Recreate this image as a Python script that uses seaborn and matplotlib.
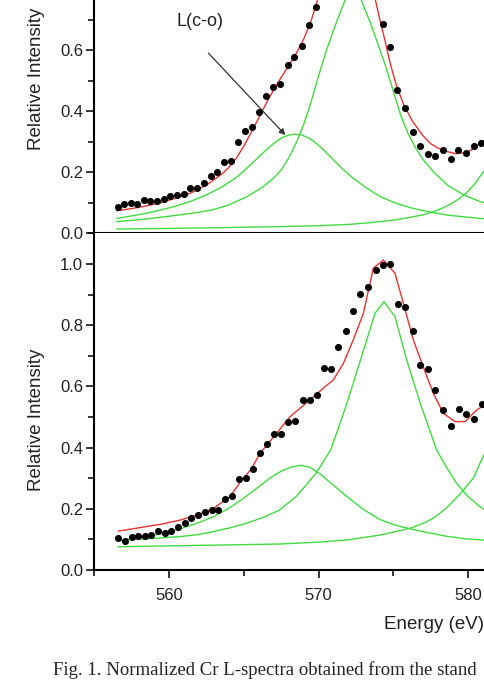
import numpy as np
import pandas as pd
import matplotlib
matplotlib.use("Agg")
import matplotlib.pyplot as plt
from matplotlib.ticker import MultipleLocator, FixedLocator, FormatStrFormatter
import seaborn as sns

# ---------------- data: top panel ----------------
top_pts_x = [556.56, 557.0, 557.45, 557.85, 558.3, 558.74, 559.19, 559.63, 560.08, 560.52,
             560.97, 561.42, 561.86, 562.35, 562.8, 563.24, 563.69, 564.13, 564.62, 565.09,
             565.56, 566.03, 566.48, 566.95, 567.44, 567.93, 568.38, 568.87, 569.36, 569.83,
             570.28, 570.72, 571.17, 571.62, 572.07, 572.51, 572.96, 573.41, 573.86,
             574.3, 574.75, 575.26, 575.77, 576.29, 576.78, 577.3, 577.81, 578.32, 578.84,
             579.35, 579.86, 580.37, 580.89]
top_pts_y = [0.086, 0.095, 0.100, 0.096, 0.108, 0.105, 0.105, 0.110, 0.122, 0.125,
             0.128, 0.149, 0.149, 0.165, 0.187, 0.201, 0.234, 0.237, 0.297, 0.334,
             0.348, 0.397, 0.450, 0.480, 0.488, 0.552, 0.576, 0.612, 0.681, 0.740,
             0.82, 0.88, 0.94, 0.98, 1.00, 0.99, 0.95, 0.89, 0.82,
             0.685, 0.609, 0.469, 0.409, 0.332, 0.284, 0.260, 0.253, 0.272, 0.242,
             0.272, 0.262, 0.285, 0.296]

top_fit_x = [556.5, 557.5, 558.5, 559.5, 560.5, 561.5, 562.5, 563.5, 564.0, 564.5, 565.0,
             565.5, 566.0, 566.5, 567.0, 567.5, 568.0, 568.5, 569.0, 569.5, 570.0, 570.5,
             571.0, 571.5, 572.0, 572.5, 573.0, 573.4, 573.8, 574.1, 574.4, 574.8, 575.2,
             575.7, 576.3, 577.0, 577.5, 578.0, 578.6, 579.2, 579.9, 580.4, 580.8, 581.3]
top_fit_y = [0.073, 0.080, 0.089, 0.100, 0.115, 0.132, 0.157, 0.192, 0.215, 0.245, 0.285,
             0.330, 0.378, 0.425, 0.470, 0.510, 0.548, 0.588, 0.635, 0.695, 0.775, 0.845,
             0.910, 0.960, 0.990, 0.990, 0.950, 0.880, 0.765, 0.700, 0.640, 0.555, 0.485,
             0.420, 0.365, 0.318, 0.293, 0.278, 0.267, 0.260, 0.264, 0.278, 0.294, 0.310]

top_c1_x = [556.5, 557.5, 558.5, 559.5, 560.5, 561.5, 562.5, 563.5, 564.5, 565.2, 565.8,
            566.4, 567.0, 567.5, 568.0, 568.4, 568.9, 569.4, 570.0, 570.8, 571.5, 572.3,
            573.2, 574.1, 575.2, 576.3, 577.4, 578.6, 579.7, 580.8, 581.5]
top_c1_y = [0.048, 0.056, 0.065, 0.076, 0.089, 0.105, 0.125, 0.150, 0.182, 0.212, 0.240,
            0.268, 0.294, 0.311, 0.321, 0.324, 0.321, 0.310, 0.288, 0.250, 0.215, 0.180,
            0.148, 0.120, 0.097, 0.081, 0.069, 0.059, 0.053, 0.048, 0.045]

top_c2_x = [556.5, 558.5, 560.5, 562.0, 563.0, 564.0, 565.2, 566.2, 567.0, 567.5, 568.0,
            568.5, 569.0, 569.5, 570.0, 570.5, 571.0, 571.5, 572.0, 572.3, 572.6, 573.0,
            573.5, 574.0, 574.5, 575.0, 575.5, 576.0, 576.5, 577.0, 577.7, 578.6, 579.7,
            580.8, 581.5]
top_c2_y = [0.037, 0.046, 0.058, 0.068, 0.077, 0.092, 0.119, 0.148, 0.180, 0.207, 0.245,
            0.295, 0.355, 0.430, 0.515, 0.595, 0.665, 0.730, 0.790, 0.810, 0.800, 0.745,
            0.685, 0.615, 0.545, 0.465, 0.385, 0.325, 0.278, 0.240, 0.200, 0.158, 0.125,
            0.103, 0.093]

top_c3_x = [556.5, 560.0, 564.0, 567.4, 570.0, 572.0, 573.5, 575.0, 576.0, 577.0, 577.7,
            578.3, 578.9, 579.4, 579.9, 580.4, 580.8, 581.2, 581.6]
top_c3_y = [0.013, 0.015, 0.018, 0.021, 0.024, 0.028, 0.034, 0.042, 0.050, 0.060, 0.070,
            0.082, 0.097, 0.112, 0.132, 0.158, 0.185, 0.212, 0.240]

# ---------------- data: bottom panel ----------------
bot_pts_x = [556.6, 557.05, 557.5, 557.94, 558.39, 558.79, 559.26, 559.71, 560.15, 560.6,
             561.05, 561.49, 561.94, 562.38, 562.85, 563.29, 563.76, 564.21, 564.68, 565.13,
             565.59, 566.08, 566.53, 567.0, 567.47, 567.98, 568.43, 568.94, 569.43, 569.88,
             570.36, 570.83, 571.32, 571.84, 572.3, 572.79, 573.31, 573.82, 574.31, 574.8,
             575.29, 575.8, 576.3, 576.81, 577.3, 577.81, 578.32, 578.84, 579.37, 579.88,
             580.38, 580.91]
bot_pts_y = [0.104, 0.096, 0.109, 0.111, 0.112, 0.115, 0.128, 0.122, 0.127, 0.139,
             0.153, 0.170, 0.180, 0.191, 0.196, 0.195, 0.231, 0.241, 0.297, 0.301,
             0.329, 0.383, 0.412, 0.444, 0.443, 0.483, 0.487, 0.556, 0.556, 0.571,
             0.659, 0.656, 0.729, 0.781, 0.845, 0.901, 0.926, 0.979, 0.996, 0.999,
             0.869, 0.861, 0.781, 0.670, 0.658, 0.588, 0.523, 0.471, 0.526, 0.510,
             0.493, 0.542]

bot_fit_x = [556.6, 558.0, 559.5, 560.73, 562.0, 562.96, 564.08, 564.8, 565.5, 566.08,
             567.2, 568.09, 569.43, 570.43, 570.99, 571.66, 572.32, 573.0, 573.66, 574.33,
             575.11, 575.67, 576.34, 577.0, 577.68, 578.35, 579.13, 579.8, 580.58, 581.3]
bot_fit_y = [0.127, 0.138, 0.150, 0.163, 0.182, 0.201, 0.240, 0.290, 0.330, 0.381,
             0.447, 0.501, 0.556, 0.599, 0.621, 0.675, 0.752, 0.839, 0.986, 1.013,
             0.970, 0.872, 0.752, 0.664, 0.577, 0.512, 0.485, 0.485, 0.523, 0.545]

bot_c1_x = [556.6, 558.0, 559.5, 560.7, 562.0, 563.0, 564.0, 565.0, 566.0, 566.8, 567.5,
            568.2, 568.8, 569.4, 570.0, 570.8, 571.9, 573.0, 574.1, 575.1, 576.1, 577.3,
            578.6, 579.8, 581.3]
bot_c1_y = [0.096, 0.105, 0.118, 0.134, 0.155, 0.175, 0.202, 0.235, 0.272, 0.302, 0.323,
            0.337, 0.342, 0.336, 0.318, 0.285, 0.240, 0.198, 0.165, 0.147, 0.135, 0.122,
            0.110, 0.102, 0.097]

bot_c2_x = [556.6, 558.5, 560.7, 562.0, 563.0, 564.0, 565.2, 566.3, 567.4, 568.5, 569.3,
            569.9, 570.8, 571.3, 571.9, 572.8, 573.78, 574.38, 575.11, 575.9, 576.8, 577.9,
            578.5, 579.24, 580.0, 580.8, 581.3]
bot_c2_y = [0.098, 0.102, 0.109, 0.116, 0.126, 0.137, 0.153, 0.172, 0.196, 0.240, 0.285,
            0.321, 0.392, 0.460, 0.545, 0.686, 0.839, 0.877, 0.828, 0.686, 0.545, 0.392,
            0.340, 0.283, 0.240, 0.207, 0.190]

bot_c3_x = [556.6, 560.0, 564.0, 567.42, 570.0, 571.88, 574.1, 576.1, 576.7, 577.2, 577.7,
            578.1, 578.6, 579.0, 579.4, 579.7, 580.0, 580.35, 580.8, 581.3]
bot_c3_y = [0.076, 0.079, 0.082, 0.085, 0.091, 0.098, 0.114, 0.136, 0.147, 0.157, 0.170,
            0.185, 0.205, 0.225, 0.245, 0.261, 0.280, 0.300, 0.349, 0.400]

x_major_ticks = [560, 570, 580]
x_minor_ticks = [555, 565, 575]
top_y_major = [0.0, 0.2, 0.4, 0.6]
bot_y_major = [0.0, 0.2, 0.4, 0.6, 0.8, 1.0]
y_label = "Relative Intensity"
x_label = "Energy (eV)"
annot_text = "L(c-o)"
caption = "Fig. 1. Normalized Cr L-spectra obtained from the stand"

# ---------------- style ----------------
sns.set_style("ticks")
plt.rcParams["font.family"] = ["Liberation Sans", "DejaVu Sans"]

RED = "#e63232"
GREEN = "#40dc40"

W, H = 485, 697
fig = plt.figure(figsize=(W / 100, H / 100), dpi=100)

x0_px = 94.3
px_per_ev = 14.95
xlim = (555, 590)
ylim = (0, 1.1)
ax_w = (xlim[1] - xlim[0]) * px_per_ev / W

ax_top = fig.add_axes([x0_px / W, (H - 233) / H, ax_w, 1.1 * 305 / H])
ax_bot = fig.add_axes([x0_px / W, (H - 570) / H, ax_w, 1.1 * 306 / H])


def draw(ax, px, py, fx, fy, comps):
    for cx, cy in comps:
        sns.lineplot(x=cx, y=cy, ax=ax, color=GREEN, lw=1.0, estimator=None,
                     sort=False, zorder=2)
    sns.lineplot(x=fx, y=fy, ax=ax, color=RED, lw=1.0, estimator=None,
                 sort=False, zorder=3)
    sns.scatterplot(x=px, y=py, ax=ax, color="black", s=26, linewidth=0,
                    zorder=4)


def style(ax, show_xticklabels, y_major):
    ax.set_xlim(*xlim)
    ax.set_ylim(*ylim)
    ax.xaxis.set_major_locator(FixedLocator(x_major_ticks))
    ax.xaxis.set_minor_locator(FixedLocator(x_minor_ticks))
    ax.yaxis.set_major_locator(FixedLocator(y_major))
    ax.yaxis.set_minor_locator(MultipleLocator(0.1))
    ax.yaxis.set_major_formatter(FormatStrFormatter("%.1f"))
    for s in ("top", "right"):
        ax.spines[s].set_visible(False)
    for s in ("left", "bottom"):
        ax.spines[s].set_linewidth(1.5)
        ax.spines[s].set_color("black")
    ax.tick_params(which="major", direction="out", length=6, width=1.1,
                   color="black", labelsize=12, labelcolor="#222222")
    ax.tick_params(which="minor", direction="out", length=4, width=1.1,
                   color="black")
    ax.tick_params(axis="y", which="major", pad=2)
    ax.tick_params(axis="x", which="major", pad=7)
    if not show_xticklabels:
        ax.tick_params(axis="x", labelbottom=False)
    ax.set_xlabel("")
    ax.set_ylabel(y_label, fontsize=13.5, color="#222222")


draw(ax_top, top_pts_x, top_pts_y, top_fit_x, top_fit_y,
     [(top_c1_x, top_c1_y), (top_c2_x, top_c2_y), (top_c3_x, top_c3_y)])
draw(ax_bot, bot_pts_x, bot_pts_y, bot_fit_x, bot_fit_y,
     [(bot_c1_x, bot_c1_y), (bot_c2_x, bot_c2_y), (bot_c3_x, bot_c3_y)])

style(ax_top, False, top_y_major)
style(ax_bot, True, bot_y_major)

ax_top.yaxis.set_label_coords(-0.094, 0.4605)
ax_bot.yaxis.set_label_coords(-0.094, 0.447)

ax_bot.set_xlabel(x_label, fontsize=13.5, color="#222222")
ax_bot.xaxis.set_label_coords(0.6486, -0.137)

ax_top.text(562.07, 0.692, annot_text, fontsize=13, color="#222222",
            ha="center", va="center")
ax_top.annotate("", xy=(567.78, 0.321), xytext=(562.63, 0.590),
                arrowprops=dict(arrowstyle="-|>", color="#333333", lw=0.9,
                                mutation_scale=9, shrinkA=0, shrinkB=0))

fig.text(53 / W, (H - 675) / H, caption, fontsize=13.5,
         family=["Liberation Serif", "DejaVu Serif"], color="#222222",
         ha="left", va="baseline")

fig.savefig("out.png", dpi=100)
